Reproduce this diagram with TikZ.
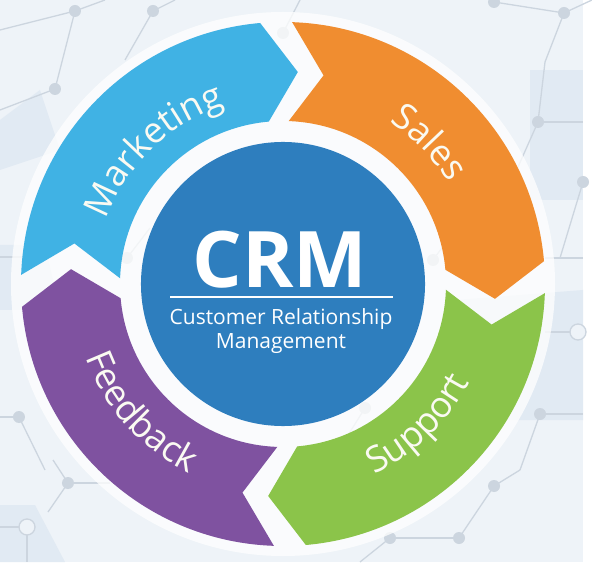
\documentclass[tikz,border=0pt]{standalone}
\usepackage{fontspec}
\setmainfont{Open Sans}
\usetikzlibrary{decorations.text}

\definecolor{mktblue}{RGB}{64,178,228}
\definecolor{salesorange}{RGB}{240,141,48}
\definecolor{supgreen}{RGB}{139,196,74}
\definecolor{fbpurple}{RGB}{127,82,160}
\definecolor{crmblue}{RGB}{46,126,190}
\definecolor{bgpale}{RGB}{238,243,248}
\definecolor{hexpale}{RGB}{225,234,243}
\definecolor{netgrey}{RGB}{204,213,223}
\definecolor{labelwhite}{RGB}{250,250,242}

% ring radii (1 unit = 1pt)
\def\ringout{262}
\def\ringin{163}
\def\ringmid{212.5}

% one arrow segment of the ring: #1 start angle, #2 colour
\newcommand{\ringseg}[2]{%
  \fill[#2] ({#1}:\ringout) arc[start angle={#1}, end angle={#1-83}, radius=\ringout]
    -- ({#1-92}:\ringmid) -- ({#1-83}:\ringin)
    arc[start angle={#1-83}, end angle={#1}, radius=\ringin]
    -- ({#1-9}:\ringmid) -- cycle;}

\begin{document}
\begin{tikzpicture}
  [
    scale=0.0351459,
    netline/.style={netgrey, line width=1.3pt},
    netdot/.style={fill=netgrey},
    ringlabel/.style={decorate, decoration={text along path, text align=center,
        text color=labelwhite, text={|\fontsize{36}{40}\selectfont|#1}}}
  ]
  \useasboundingbox (-283,-290) rectangle (309,284);
  \fill[white] (-283,-290) rectangle (309,284);
  \fill[bgpale] (-283,284) rectangle (300,-278);
  % pale hexagon patches
  \foreach \xa/\ya/\xb/\yb/\xc/\yc/\xd/\yd in {455/300/583/290/583/420/470/420,
      530/70/583/70/583/200/530/200, 0/505/35/505/65/562/0/562,
      0/245/45/245/60/310/0/310, 0/120/40/90/60/150/0/170} {
    \fill[hexpale] (\xa-283,284-\ya) -- (\xb-283,284-\yb) -- (\xc-283,284-\yc)
      -- (\xd-283,284-\yd) -- cycle;
  }
  % network lines
  \foreach \xa/\ya/\xb/\yb in {0/30/75/11, 75/11/105/0, 75/11/55/89, 55/89/0/110,
      153/11/175/0, 153/11/125/60, 494/2/564/13, 564/13/592/0, 564/13/545/62,
      545/62/538/122, 538/122/583/122, 538/122/510/185, 583/182/560/258,
      545/258/583/258, 545/332/570/332, 540/414/583/414, 540/414/520/470,
      520/470/494/486, 494/486/459/538, 459/538/390/538, 390/538/360/562,
      19/417/0/417, 19/417/45/470, 53/460/68/483, 68/483/110/483, 68/483/48/512,
      0/527/20/527, 27/534/27/562, 0/257/40/257, 127/258/150/228,
      433/260/455/230, 365/408/345/440, 283/33/300/0} {
    \draw[netline] (\xa-283,284-\ya) -- (\xb-283,284-\yb);
  }
  \foreach \x/\y in {75/11, 153/11, 55/89, 538/122, 564/13, 494/2, 583/182,
      540/414, 494/486, 459/538, 390/538, 19/417, 68/483, 127/258, 433/260,
      365/408, 283/33} {
    \fill[netdot] (\x-283,284-\y) circle (6);
  }
  \foreach \x/\y in {578/332, 27/527} {
    \draw[netline, fill=bgpale] (\x-283,284-\y) circle (8);
  }
  % white disc under the ring
  \fill[white, opacity=0.75] (0,0) circle (272);
  % ring segments
  \ringseg{178}{mktblue}
  \ringseg{88}{salesorange}
  \ringseg{-2}{supgreen}
  \ringseg{-92}{fbpurple}
  % ring labels
  \path[ringlabel=Marketing] (174:188) arc[start angle=174, end angle=94, radius=188];
  \path[ringlabel=Sales] (84:194) arc[start angle=84, end angle=4, radius=194];
  \path[ringlabel=Support] (-86:211) arc[start angle=-86, end angle=-6, radius=211];
  \path[ringlabel=Feedback] (-178:211) arc[start angle=-178, end angle=-98, radius=211];
  % centre
  \node[circle, fill=crmblue, minimum size=284pt, inner sep=0pt] (core) at (0,0) {};
  \node[anchor=base, text=white, font=\bfseries\fontsize{78}{80}\selectfont, inner sep=0pt]
    (crm) at (-3,-4) {CRM};
  \draw[white, line width=2pt] (-113,-13) -- (110,-13);
  \node[anchor=base, text=white, font=\fontsize{21}{23}\selectfont, inner sep=0pt]
    (crmsub) at (-2,-41) {Customer Relationship};
  \node[anchor=base, text=white, font=\fontsize{21}{23}\selectfont, inner sep=0pt]
    (crmsub2) at (-2,-64) {Management};
\end{tikzpicture}
\end{document}
